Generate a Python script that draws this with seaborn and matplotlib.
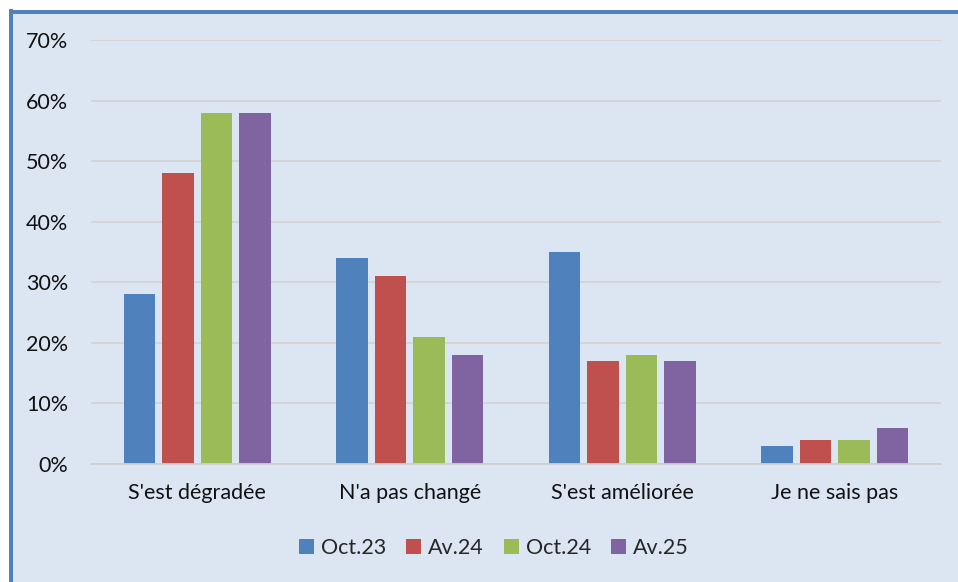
import pandas as pd
import seaborn as sns
import matplotlib.pyplot as plt
from matplotlib.patches import Rectangle
from matplotlib.ticker import PercentFormatter

# data
categories = ["S'est dégradée", "N'a pas changé", "S'est améliorée", "Je ne sais pas"]
periods = ["Oct.23", "Av.24", "Oct.24", "Av.25"]
oct23 = [28, 34, 35, 3]
av24 = [48, 31, 17, 4]
oct24 = [58, 21, 18, 4]
av25 = [58, 18, 17, 6]
colors = ["#4F81BD", "#C0504D", "#9BBB59", "#8064A2"]

rows = []
for period, vals in zip(periods, [oct23, av24, oct24, av25]):
    for cat, v in zip(categories, vals):
        rows.append({"Catégorie": cat, "Période": period, "Valeur": v})
df = pd.DataFrame(rows)

sns.set_style("white")
plt.rcParams['font.family'] = ['Lato', 'DejaVu Sans']

bg = "#DCE6F2"
fig = plt.figure(figsize=(9.58, 5.82), dpi=100)
fig.patch.set_facecolor("white")

# chart frame: blue border on top/left, light blue fill
W, H = 958, 582
fig.patches.append(Rectangle((11 / W, 0), 1, 1 - 11 / H, transform=fig.transFigure,
                             facecolor=bg, edgecolor="none", zorder=-10))
fig.patches.append(Rectangle((9 / W, 0), 4 / W, 1 - 9 / H, transform=fig.transFigure,
                             facecolor="#4F81BD", edgecolor="none", zorder=-9))
fig.patches.append(Rectangle((9 / W, 1 - 14 / H), 1, 4 / H, transform=fig.transFigure,
                             facecolor="#4F81BD", edgecolor="none", zorder=-9))

ax = fig.add_axes([91 / W, 118 / H, 850 / W, 424 / H])
ax.set_zorder(5)
ax.set_facecolor("none")

sns.barplot(data=df, x="Catégorie", y="Valeur", hue="Période", palette=colors,
            saturation=1, linewidth=0, width=0.725, gap=0.19, ax=ax, legend=True)

ax.set_ylim(0, 70)
ax.set_xlim(-0.5, 3.5)
ax.set_yticks(range(0, 71, 10))
ax.yaxis.set_major_formatter(PercentFormatter(decimals=0))
ax.grid(axis="y", color="#D4D4D4", linewidth=1.3)
ax.set_axisbelow(True)
for s in ["top", "right", "left"]:
    ax.spines[s].set_visible(False)
ax.spines["bottom"].set_color("#CFCFCF")
ax.spines["bottom"].set_linewidth(1.3)
ax.tick_params(axis="both", length=0, labelsize=15.5, colors="#111111")
ax.tick_params(axis="y", pad=16.5)
ax.tick_params(axis="x", pad=14)
ax.set_xlabel("")
ax.set_ylabel("")

ax.legend(loc="center", bbox_to_anchor=(0.474, -0.198), ncol=4, frameon=False,
          fontsize=15.5, handlelength=0.7, handleheight=0.7, handletextpad=0.3,
          columnspacing=0.95)

fig.savefig("out.png", dpi=100, facecolor="white")
